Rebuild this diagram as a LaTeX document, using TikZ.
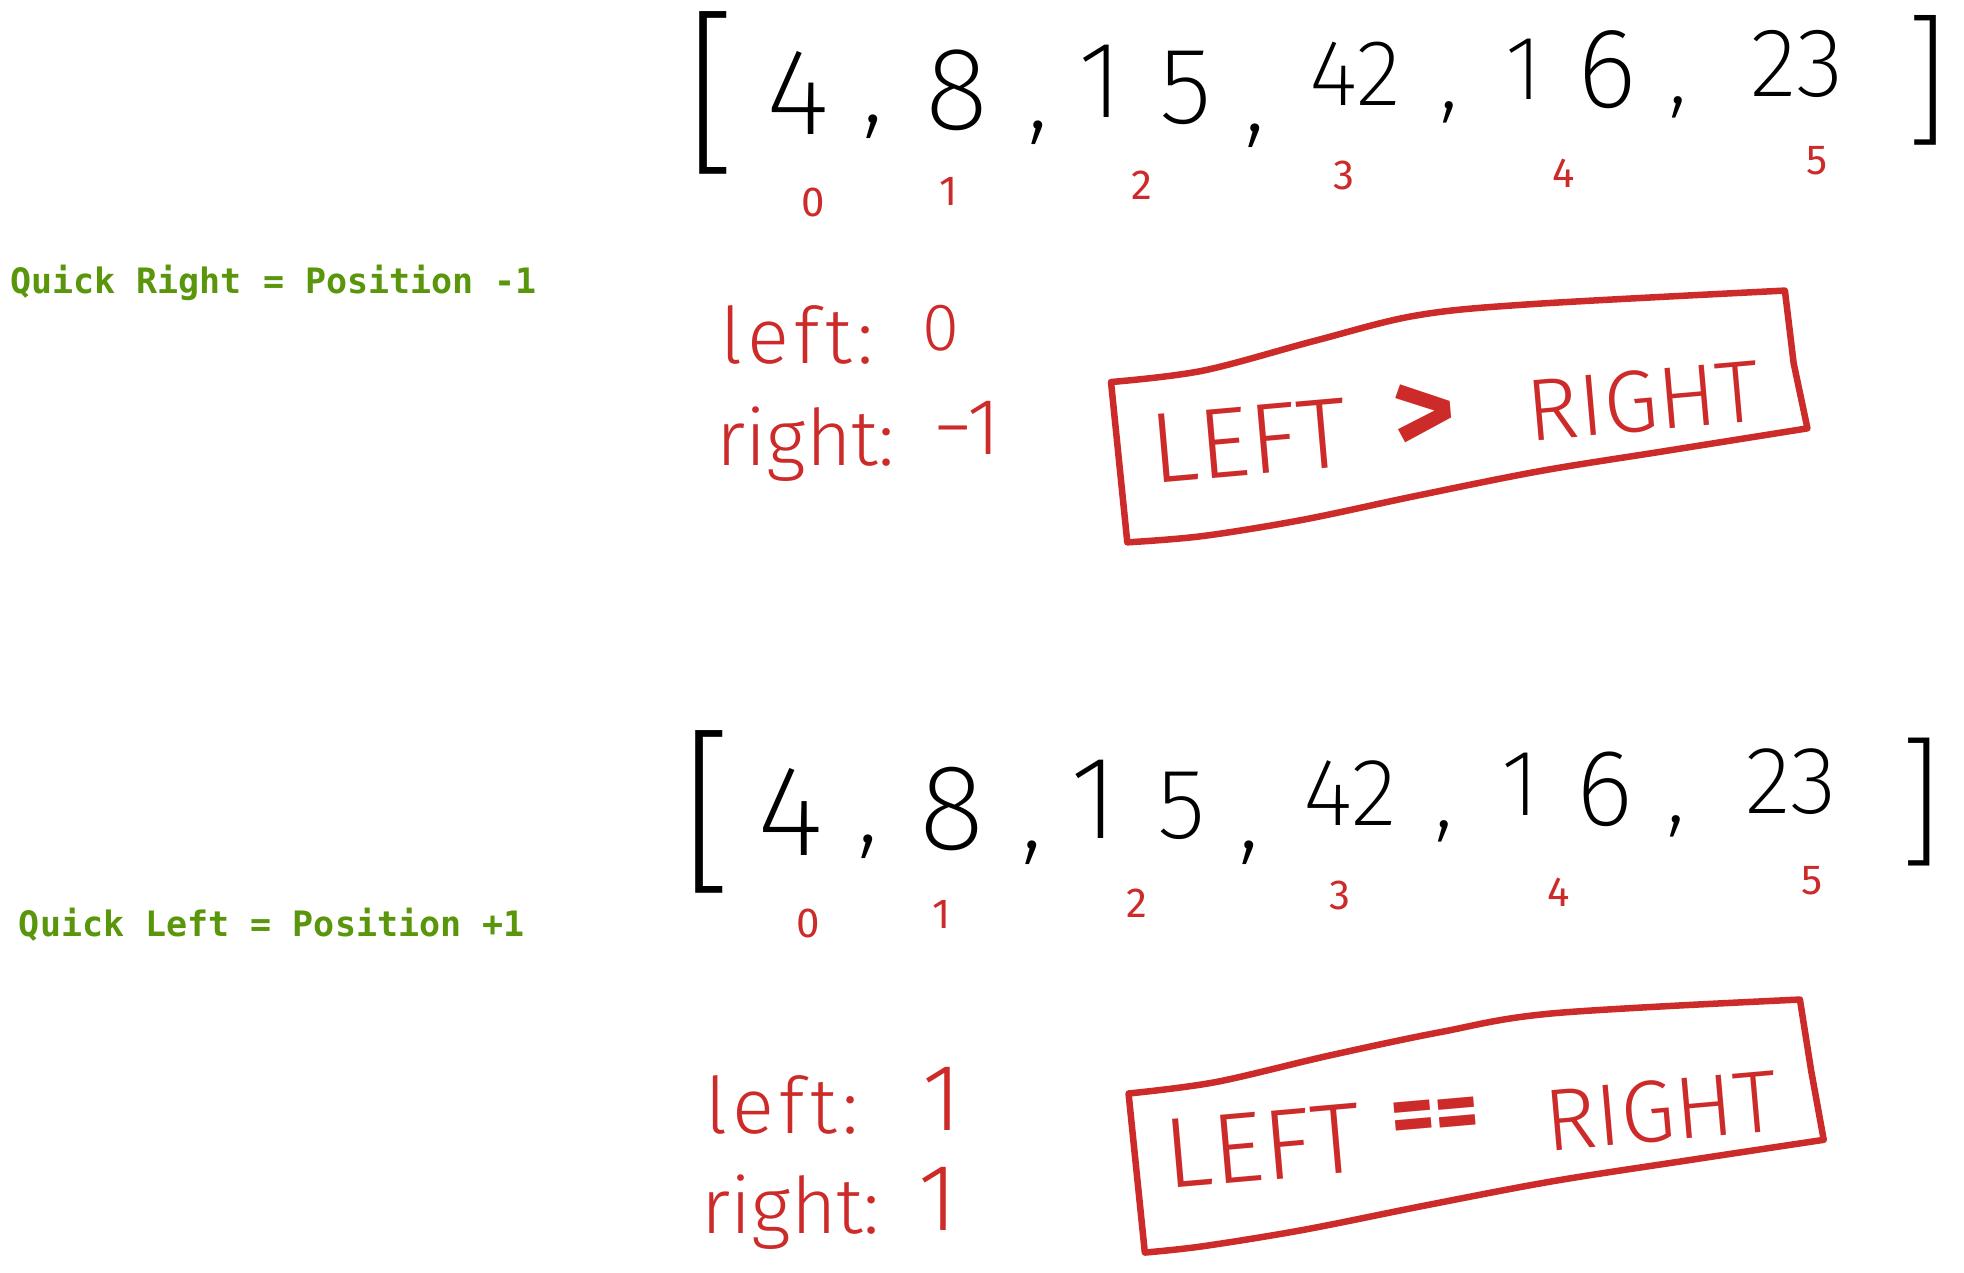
\documentclass[tikz,border=0pt]{standalone}
\usepackage{fontspec}
\IfFontExistsTF{FiraSans-Light.otf}{%
  \newfontfamily\hand{FiraSans-Light.otf}\newfontfamily\handwide{FiraSans-Light.otf}[LetterSpace=7]}{%
  \IfFontExistsTF{Fira Sans Light}{%
    \newfontfamily\hand{Fira Sans Light}\newfontfamily\handwide{Fira Sans Light}[LetterSpace=7]}{%
    \newfontfamily\hand{Fira Sans}\newfontfamily\handwide{Fira Sans}[LetterSpace=7]}}
\IfFontExistsTF{FiraSans-ExtraLight.otf}{\newfontfamily\handthin{FiraSans-ExtraLight.otf}}{%
  \IfFontExistsTF{Fira Sans ExtraLight}{\newfontfamily\handthin{Fira Sans ExtraLight}}{\let\handthin\hand}}
\newfontfamily\handbold{Fira Sans}
\newfontfamily\monofnt{DejaVu Sans Mono}
\definecolor{hred}{RGB}{205,42,42}
\definecolor{qgreen}{RGB}{90,150,12}
\tikzset{
  num/.style={font=\handthin\fontsize{#1}{#1}\selectfont, inner sep=0pt, text=black},
  brk/.style={font=\handthin\fontsize{#1}{#1}\selectfont, inner sep=0pt, text=black},
  idx/.style={font=\handbold\fontsize{42}{42}\selectfont, inner sep=0pt, text=hred},
  lab/.style={font=\hand\fontsize{78}{78}\selectfont, inner sep=0pt, text=hred, anchor=base west},
  labw/.style={font=\handwide\fontsize{78}{78}\selectfont, inner sep=0pt, text=hred, anchor=base west},
  val/.style={font=\hand\fontsize{#1}{#1}\selectfont, inner sep=0pt, text=hred},
  boxtxt/.style={font=\hand\fontsize{#1}{#1}\selectfont, inner sep=0pt, text=hred, rotate=5},
  boxop/.style={font=\handbold\bfseries\fontsize{#1}{#1}\selectfont, inner sep=0pt, text=hred, rotate=5},
  note/.style={font=\monofnt\bfseries\fontsize{35}{35}\selectfont, inner sep=0pt, text=qgreen, anchor=base west},
  boxline/.style={draw=hred, line width=6.5pt, line join=round, line cap=round},
}
\begin{document}
\begin{tikzpicture}[x=1.2526pt, y=-1.2526pt]
\useasboundingbox (0,0) rectangle (1568,1016);

% green notes
\node[note] (qr) at (8,234) {Quick Right = Position -1};
\node[note] (ql) at (15,748) {Quick Left = Position +1};

% ---------- top array ----------
\node[brk=178] (tlb) at (568,74) {[};
\node[num=123] (t4) at (637,74) {4};
\node[num=110] (tc1) at (697,101) {,};
\node[num=118] (t8) at (764,72) {8};
\node[num=110] (tc2) at (829,106) {,};
\node[num=109] (t1a) at (879,65) {1};
\node[num=109] (t5) at (947,70) {5};
\node[num=110] (tc3) at (1002,108) {,};
\node[num=94] (t42) at (1082,59) {42};
\node[num=100] (tc4) at (1157,90) {,};
\node[num=91] (t1b) at (1217,55) {1};
\node[num=114] (t6) at (1283,56) {6};
\node[num=100] (tc5) at (1340,86) {,};
\node[num=98] (t23) at (1435,51) {23};
\node[brk=142] (trb) at (1538,64) {]};

\node[idx] (ti0) at (649,162) {0};
\node[idx] (ti1) at (757,153) {1};
\node[idx] (ti2) at (912,148) {2};
\node[idx] (ti3) at (1073,140) {3};
\node[idx] (ti4) at (1248,138) {4};
\node[idx] (ti5) at (1451,128) {5};

\node[labw] (tl) at (575,290) {left:};
\node[val=67] (tlv) at (751,262) {0};
\node[lab] (tr) at (572,372) {right:};
\node[val=80] (trv) at (772,342) {−1};

\draw[boxline] plot[smooth, tension=0.55] coordinates {(887,305) (960,296) (1050,272) (1130,252) (1220,243) (1425,232)}
  -- (1432,290) -- (1443,342)
  -- plot[smooth, tension=0.55] coordinates {(1443,342) (1330,360) (1230,376) (1130,396) (1040,415) (960,428) (900,433)}
  -- cycle;
\node[boxtxt=100] (tbl) at (997,352) {LEFT};
\node[boxop=120] (tbg) at (1137,333) {>};
\node[boxtxt=88] (tbr) at (1312,320) {RIGHT};

% ---------- bottom array ----------
\node[brk=178] (blb) at (565,648) {[};
\node[num=129] (b4) at (631,648) {4};
\node[num=110] (bc1) at (693,676) {,};
\node[num=122] (b8) at (760,646) {8};
\node[num=110] (bc2) at (824,681) {,};
\node[num=118] (b1a) at (874,638) {1};
\node[num=100] (b5) at (943,643) {5};
\node[num=110] (bc3) at (997,681) {,};
\node[num=96] (b42) at (1078,633) {42};
\node[num=100] (bc4) at (1153,664) {,};
\node[num=94] (b1b) at (1214,626) {1};
\node[num=109] (b6) at (1281,630) {6};
\node[num=100] (bc5) at (1338,660) {,};
\node[num=96] (b23) at (1430,624) {23};
\node[brk=140] (brb) at (1533,640) {]};

\node[idx] (bi0) at (645,737) {0};
\node[idx] (bi1) at (752,730) {1};
\node[idx] (bi2) at (908,721) {2};
\node[idx] (bi3) at (1070,715) {3};
\node[idx] (bi4) at (1244,712) {4};
\node[idx] (bi5) at (1447,703) {5};

\node[labw] (bl) at (563,905) {left:};
\node[val=95] (blv) at (752,877) {1};
\node[lab] (br) at (560,985) {right:};
\node[val=95] (brv) at (749,957) {1};

\draw[boxline] plot[smooth, tension=0.55] coordinates {(901,873) (970,864) (1060,843) (1150,824) (1240,809) (1437,798)}
  -- (1446,855) -- (1456,910)
  -- plot[smooth, tension=0.55] coordinates {(1456,910) (1350,926) (1240,943) (1140,962) (1040,982) (960,995) (914,1000)}
  -- cycle;
\node[boxtxt=100] (bbl) at (1008,915) {LEFT};
\node[boxop=85] (bbe) at (1146,895) {==};
\node[boxtxt=88] (bbr) at (1326,887) {RIGHT};
\end{tikzpicture}
\end{document}
